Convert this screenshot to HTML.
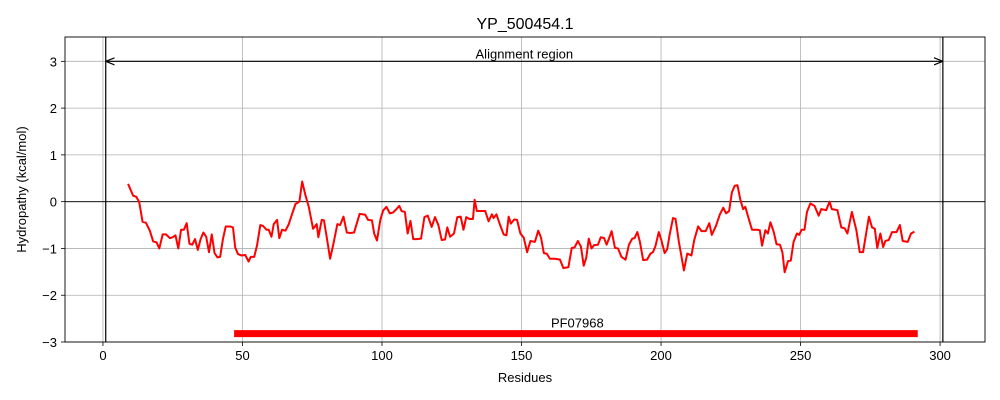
<!DOCTYPE html>
<html><head><meta charset="utf-8"><style>
body{margin:0;background:#fff}
svg{display:block;font-family:"Liberation Sans","DejaVu Sans",sans-serif}
</style></head><body>
<svg id="chart" width="1000" height="400"></svg>
<script>
const residues=[9,10.8,12,13,14.2,15.4,16.8,18,19.2,20.2,21.4,22.6,24,25,26,27,28,29,30,31,32,33,34,35,36,37,38,39,40,41,42,43,44,45.6,46.6,47.4,48.4,49.6,51,52.2,53,54.2,55.2,56.4,57.4,58.6,59.4,60.4,61.2,62.4,63.2,64.2,65.4,66.6,67.8,69,70.4,71.4,72.6,73.8,75.3,76.6,77.2,78.4,79.2,80.2,81.4,82.6,84,85,86.2,87.4,88.6,90,92,94,95,96.4,97.2,98.2,99.4,100.4,101.6,102.8,104,105,106.2,107,108.2,109.2,110.2,111.2,112.4,114,115.2,116.4,117.8,119,120.2,121.4,122.6,123.4,124.4,125.8,127,128.2,129.2,130.2,131.4,132.6,133.2,134,135.2,137,138.2,139.4,140,141,142.4,143.6,144.6,145.4,146.2,147.4,148.4,149.6,150.8,152,153.2,154.8,156,157,158,159,160.2,162,163.8,165,166.8,168,169,170.2,171.3,172.3,173.2,174.1,175.1,176,177.4,178.4,179.6,180.5,181.4,182.3,183.5,184.6,185.8,187.3,188.5,189.7,190.5,191.5,192.4,193.6,195,196.2,197.1,198,199.2,200.1,201.3,202.2,203.1,204.3,205.2,206.4,208.2,209.4,210.9,211.9,213.3,214.5,216,217.3,218.2,219.6,221.1,222.3,223.3,224.4,225.4,226.4,227.4,228.4,229.4,230.2,231.4,232.6,234.4,235.4,236.2,237.4,238.3,239.2,240.4,241.4,242.6,243.5,244.3,245.5,246.5,247.5,248.7,249.5,250.4,251.4,252.3,253.5,255,256.5,257.4,259.2,260.4,261.2,263.2,264.6,265.8,266.8,268.4,270,271.2,272.4,274.5,275.6,276.6,277.5,278.6,279.6,280.4,281.6,282.8,284.4,285.6,286.6,288.4,289.6,290.8];
const hydropathy=[0.38,0.13,0.1,-0.01,-0.43,-0.45,-0.62,-0.85,-0.87,-1.0,-0.7,-0.7,-0.78,-0.76,-0.72,-1.0,-0.6,-0.6,-0.46,-0.9,-0.92,-0.8,-1.03,-0.8,-0.66,-0.75,-1.08,-0.7,-1.1,-1.19,-1.18,-0.8,-0.53,-0.53,-0.55,-0.98,-1.12,-1.15,-1.14,-1.28,-1.18,-1.18,-0.94,-0.5,-0.52,-0.6,-0.6,-0.75,-0.48,-0.39,-0.78,-0.6,-0.62,-0.48,-0.26,-0.05,0.0,0.43,0.13,-0.12,-0.58,-0.48,-0.76,-0.39,-0.4,-0.76,-1.22,-0.9,-0.48,-0.5,-0.32,-0.66,-0.67,-0.66,-0.26,-0.28,-0.39,-0.4,-0.68,-0.83,-0.39,-0.19,-0.11,-0.25,-0.23,-0.17,-0.09,-0.2,-0.22,-0.68,-0.41,-0.8,-0.8,-0.79,-0.33,-0.3,-0.54,-0.33,-0.5,-0.82,-0.81,-0.55,-0.75,-0.68,-0.33,-0.32,-0.6,-0.33,-0.37,-0.37,0.04,-0.2,-0.2,-0.2,-0.42,-0.27,-0.35,-0.27,-0.51,-0.7,-0.72,-0.32,-0.47,-0.38,-0.39,-0.68,-0.77,-1.08,-0.84,-0.86,-0.62,-0.77,-1.1,-1.11,-1.22,-1.22,-1.24,-1.42,-1.4,-0.99,-0.98,-0.84,-0.96,-1.37,-1.2,-0.79,-1.0,-0.93,-0.92,-0.76,-0.78,-0.92,-0.78,-0.63,-0.99,-1.0,-1.18,-1.24,-0.92,-0.79,-0.78,-0.65,-0.85,-1.25,-1.24,-1.11,-1.08,-0.95,-0.65,-0.82,-1.1,-1.02,-0.7,-0.35,-0.37,-0.86,-1.47,-1.11,-1.15,-0.82,-0.53,-0.63,-0.63,-0.46,-0.71,-0.53,-0.27,-0.13,-0.25,-0.2,0.2,0.34,0.35,0.05,-0.16,-0.11,-0.36,-0.6,-0.6,-0.61,-0.94,-0.61,-0.68,-0.44,-0.65,-0.91,-0.92,-1.08,-1.51,-1.27,-1.26,-0.86,-0.68,-0.71,-0.6,-0.6,-0.22,-0.04,-0.09,-0.3,-0.16,-0.18,0.0,-0.16,-0.18,-0.55,-0.57,-0.68,-0.22,-0.61,-1.08,-1.08,-0.32,-0.55,-0.58,-0.99,-0.68,-0.97,-0.84,-0.82,-0.65,-0.65,-0.5,-0.84,-0.86,-0.68,-0.64];
const xTicks=[0,50,100,150,200,250,300];
const yTicks=[-3,-2,-1,0,1,2,3];
const alignment=[1,301];
const domainRange=[47,292];
const domainLabel="PF07968";

const L=65,R=985,T=37,B=342;
const xmin=-13.6,xmax=316.1,ymin=-3,ymax=3.52;
const X=v=>L+(v-xmin)/(xmax-xmin)*(R-L);
const Y=v=>B-(v-ymin)/(ymax-ymin)*(B-T);
const svg=document.getElementById('chart');
const NS='http://www.w3.org/2000/svg';
function mk(tag,attrs,parent){const e=document.createElementNS(NS,tag);for(const k in attrs)e.setAttribute(k,attrs[k]);(parent||svg).appendChild(e);return e;}

const defs=mk('defs',{});
const mkr=mk('marker',{id:'ah',viewBox:'0 0 10 10',refX:'10',refY:'5',markerWidth:'9',markerHeight:'9',orient:'auto-start-reverse',markerUnits:'userSpaceOnUse'},defs);
mk('path',{d:'M0,1 L10,5 L0,9',fill:'none',stroke:'#000','stroke-width':'1.3'},mkr);

xTicks.forEach(t=>{
 const g=mk('line',{x1:X(t),x2:X(t),y1:T,y2:B,stroke:'#b0b0b0','stroke-width':'0.8'});
 
 
 mk('line',{x1:X(t),x2:X(t),y1:B,y2:B+4,stroke:'#000','stroke-width':'0.8'});
 const tx=mk('text',{x:X(t),y:B+18,'text-anchor':'middle','font-size':'13'});tx.textContent=t;
 
 
});
yTicks.forEach(t=>{
 const g=mk('line',{x1:L,x2:R,y1:Y(t),y2:Y(t),stroke:'#b0b0b0','stroke-width':'0.8'});
 
 
 mk('line',{x1:L-4,x2:L,y1:Y(t),y2:Y(t),stroke:'#000','stroke-width':'0.8'});
 const tx=mk('text',{x:L-8,y:Y(t)+5,'text-anchor':'end','font-size':'13'});tx.textContent=(t<0?'\u2212'+(-t):t);
 
 
});
const zl=mk('line',{x1:L,x2:R,y1:Y(0),y2:Y(0),stroke:'#000','stroke-width':'0.8'});


alignment.forEach(a=>{
 const l=mk('line',{x1:X(a),x2:X(a),y1:T,y2:B,stroke:'#000','stroke-width':'1.2'});
 
 
});
const ar=mk('line',{x1:X(alignment[0]),x2:X(alignment[1]),y1:Y(3),y2:Y(3),stroke:'#000','stroke-width':'1.2','marker-start':'url(#ah)','marker-end':'url(#ah)'});


const at=mk('text',{x:X((alignment[0]+alignment[1])/2),y:Y(3)-3,'text-anchor':'middle','font-size':'13'});at.textContent='Alignment region';



const line=mk('polyline',{points:residues.map((r,i)=>X(r)+','+Y(hydropathy[i])).join(' '),fill:'none',stroke:'#ff0000','stroke-width':'2','stroke-linejoin':'round'});



const dy=-2.82;
const dm=mk('line',{x1:X(domainRange[0]),x2:X(domainRange[1]),y1:Y(dy),y2:Y(dy),stroke:'#ff0000','stroke-width':'7'});


const dl=mk('text',{x:X(170),y:Y(dy)-6,'text-anchor':'middle','font-size':'13'});dl.textContent=domainLabel;



const fr=mk('rect',{x:L,y:T,width:R-L,height:B-T,fill:'none',stroke:'#000','stroke-width':'0.9'});


const ti=mk('text',{x:(L+R)/2,y:29,'text-anchor':'middle','font-size':'16'});ti.textContent='YP_500454.1';


const xl=mk('text',{x:(L+R)/2,y:382,'text-anchor':'middle','font-size':'13'});xl.textContent='Residues';


const yl=mk('text',{x:0,y:0,'text-anchor':'middle','font-size':'13',transform:'translate(26,'+((T+B)/2)+') rotate(-90)'});yl.textContent='Hydropathy (kcal/mol)';


</script>
</body></html>
